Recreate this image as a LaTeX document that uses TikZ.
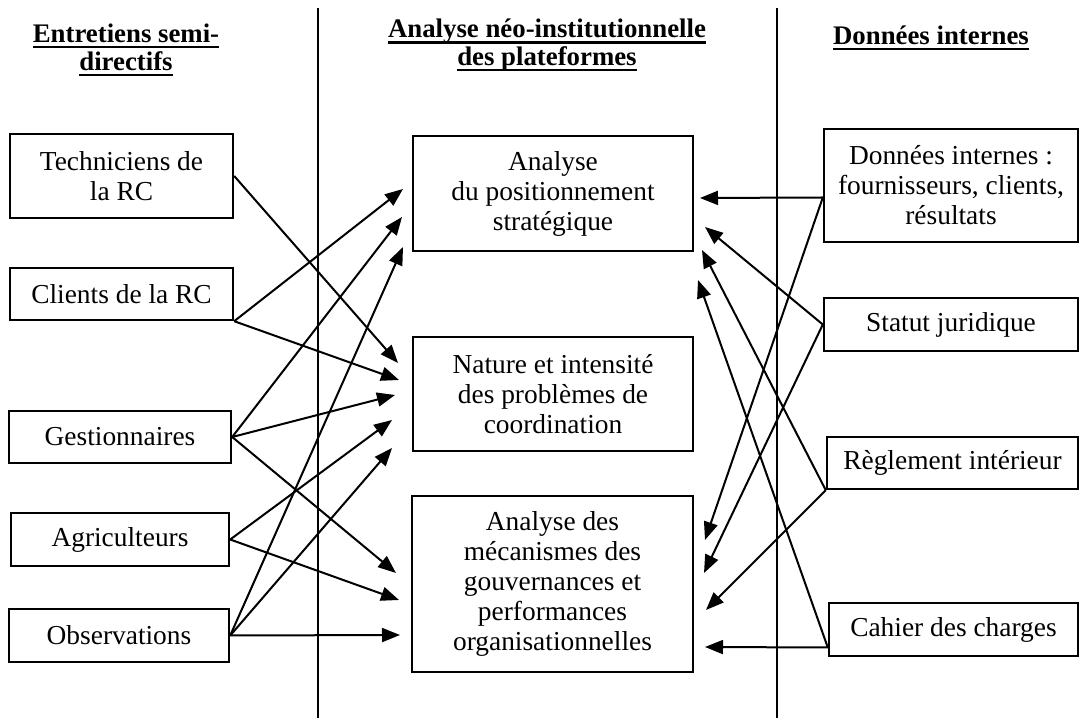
\documentclass[tikz,border=0pt]{standalone}
\usepackage{fontspec}
\setmainfont{Liberation Serif}
\usetikzlibrary{arrows.meta}

\newcommand\souligne[1]{\setbox0\hbox{#1}\rlap{\rule[-3pt]{\wd0}{1.2pt}}\box0}

\tikzset{
  boite/.style={draw, line width=1.2pt, align=center, inner sep=0pt, font=\fontsize{13.7}{15}\selectfont},
  titre/.style={align=center, font=\bfseries\fontsize{13.4}{13.8}\selectfont},
  fleche/.style={line width=1pt, -{Triangle[length=9pt,width=7pt]}},
  separ/.style={line width=1pt}
}

\begin{document}
\begin{tikzpicture}[x=0.5pt,y=-0.5pt]
    \useasboundingbox (0,0) rectangle (1082,726);

    \draw[separ] (318,8) -- (318,718);
    \draw[separ] (777,8) -- (777,718);

    \node[titre] (tgauche) at (126,50) {\souligne{Entretiens semi-}\\\souligne{directifs}};
    \node[titre] (tmilieu) at (547,45) {\souligne{Analyse néo-institutionnelle}\\\souligne{des plateformes}};
    \node[titre] (tdroite) at (931,38) {\souligne{Données internes}};

    % entretiens
    \node[boite, minimum width=111.5pt, minimum height=42pt] (tech) at (121.5,176) {Techniciens de\\la RC};
    \node[boite, minimum width=111.5pt, minimum height=26pt] (clients) at (121.5,294) {Clients de la RC};
    \node[boite, minimum width=111pt, minimum height=26pt] (gest) at (120,437) {Gestionnaires};
    \node[boite, minimum width=109pt, minimum height=26.5pt] (agri) at (120,539.5) {Agriculteurs};
    \node[boite, minimum width=110pt, minimum height=26.5pt] (obs) at (119,635.5) {Observations};

    % analyses
    \node[boite, minimum width=140pt, minimum height=57.5pt] (ana) at (553,193.5) {Analyse\\du positionnement\\stratégique};
    \node[boite, minimum width=140pt, minimum height=57pt] (nat) at (553,394) {Nature et intensité\\des problèmes de\\coordination};
    \node[boite, minimum width=140.5pt, minimum height=88pt] (meca) at (552.5,584) {Analyse des\\mécanismes des\\gouvernances et\\performances\\organisationnelles};

    % donnees internes
    \node[boite, minimum width=127pt, minimum height=56.5pt] (donnees) at (951,185.5) {Données internes :\\fournisseurs, clients,\\résultats};
    \node[boite, minimum width=127pt, minimum height=26.5pt] (statut) at (951,324.5) {Statut juridique};
    \node[boite, minimum width=125.5pt, minimum height=26pt] (regl) at (952.5,463) {Règlement intérieur};
    \node[boite, minimum width=124.5pt, minimum height=26.5pt] (cahier) at (953.5,629.5) {Cahier des charges};

    % pointes des fleches
    \coordinate (a1) at (403,189);
    \coordinate (a2) at (402,217);
    \coordinate (a3) at (403,247);
    \coordinate (n1) at (398,363);
    \coordinate (n2) at (399,380);
    \coordinate (n3) at (395,395);
    \coordinate (n4) at (392,420);
    \coordinate (n5) at (392,448);
    \coordinate (m1) at (396,573);
    \coordinate (m2) at (399,600);
    \coordinate (m3) at (400,635);
    \coordinate (b1) at (700,198);
    \coordinate (b2) at (705,227);
    \coordinate (b3) at (702,250);
    \coordinate (b4) at (698,280);
    \coordinate (r1) at (705,540);
    \coordinate (r2) at (704,573);
    \coordinate (r3) at (706,610);
    \coordinate (r4) at (705,647);

    \draw[fleche] (tech.east) -- (n1);
    \draw[fleche] (clients.south east) -- (a1);
    \draw[fleche] (clients.south east) -- (n2);
    \foreach \cible in {a2, n3, m1}
        \draw[fleche] (gest.east) -- (\cible);
    \foreach \cible in {n4, m2}
        \draw[fleche] (agri.east) -- (\cible);
    \foreach \cible in {a3, n5, m3}
        \draw[fleche] (obs.east) -- (\cible);

    \foreach \cible in {b1, r1}
        \draw[fleche] ([yshift=-6pt]donnees.west) -- (\cible);
    \foreach \cible in {b2, r2}
        \draw[fleche] (statut.west) -- (\cible);
    \foreach \cible in {b3, r3}
        \draw[fleche] (regl.south west) -- (\cible);
    \foreach \cible in {b4, r4}
        \draw[fleche] ([yshift=-9pt]cahier.west) -- (\cible);

\end{tikzpicture}
\end{document}
